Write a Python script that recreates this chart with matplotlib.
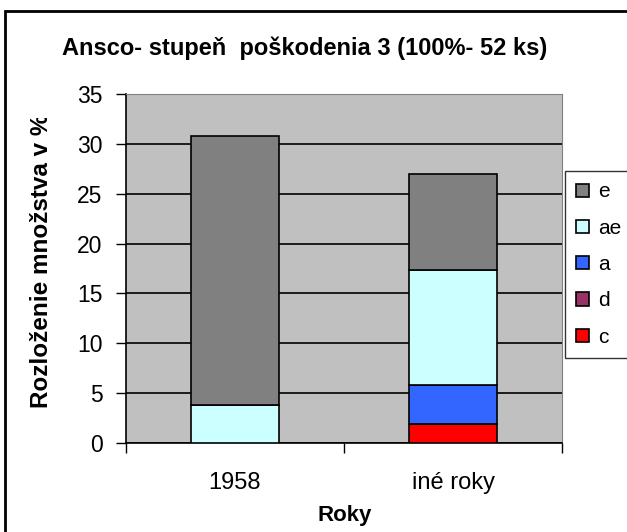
import matplotlib
matplotlib.use("Agg")
import matplotlib.pyplot as plt
from matplotlib.patches import Rectangle
from matplotlib.transforms import Bbox
import numpy as np

plt.rcParams["font.family"] = ["Liberation Sans", "DejaVu Sans"]

# data (percent of 52 pieces)
years = ["1958", "iné roky"]
series = ["c", "d", "a", "ae", "e"]
c_vals = [0.0, 1.92]
d_vals = [0.0, 0.0]
a_vals = [0.0, 3.85]
ae_vals = [3.85, 11.54]
e_vals = [26.92, 9.62]
colors = {"c": "#ff0000", "d": "#993366", "a": "#3366ff", "ae": "#ccffff", "e": "#808080"}

fig = plt.figure(figsize=(6.27, 5.32), dpi=100)
W, H = 627, 532
ax = fig.add_axes([126 / W, 1 - 443 / H, 436 / W, 349 / H])
ax.set_facecolor("#c0c0c0")

x = np.arange(len(years))
bottom = np.zeros(len(years))
vals = {"c": c_vals, "d": d_vals, "a": a_vals, "ae": ae_vals, "e": e_vals}
handles = {}
for s in series:
    v = np.array(vals[s])
    handles[s] = ax.bar(x, v, 0.405, bottom=bottom, color=colors[s],
                        edgecolor="black", linewidth=1.2, zorder=3, label=s)
    bottom += v

ax.set_xlim(-0.5, 1.5)
ax.set_ylim(0, 35)
ax.set_yticks(range(0, 36, 5))
ax.yaxis.grid(True, color="black", linewidth=1.2, zorder=1)
ax.set_axisbelow(True)
ax.set_xticks(x)
ax.set_xticklabels(years)
ax.tick_params(axis="x", length=0, labelsize=17, pad=21)
ax.tick_params(axis="y", length=7, width=1, labelsize=16.5, pad=10)
# category boundary ticks like excel
ax.set_xticks([-0.5, 0.5, 1.5], minor=True)
ax.tick_params(axis="x", which="minor", length=7, width=1)
for side in ["top", "right"]:
    ax.spines[side].set_color("#808080")
for side in ["left", "bottom"]:
    ax.spines[side].set_color("black")
    ax.spines[side].set_linewidth(1.2)

# y label, clipped at the top like in the original
yl = fig.text(42 / W, 1 - 408 / H, "Rozloženie množstva v %", rotation=90,
              ha="center", va="bottom", fontsize=17.5, fontweight="bold")
yl.set_clip_on(True)
yl.set_clip_box(Bbox.from_extents(0, 0, W, H - 118))

fig.text(345 / W, 1 - 515 / H, "Roky", ha="center", va="center",
         fontsize=16, fontweight="bold")

fig.text(305 / W, 1 - 48 / H, "Ansco- stupeň  poškodenia 3 (100%- 52 ks)",
         ha="center", va="center", fontsize=17, fontweight="bold")

order = ["e", "ae", "a", "d", "c"]
leg = fig.legend([handles[s] for s in order], order, loc="upper left",
                 bbox_to_anchor=(565 / W, 1 - 171 / H), fontsize=15,
                 frameon=True, fancybox=False, edgecolor="black",
                 handlelength=0.6, handleheight=0.6, handletextpad=0.45,
                 labelspacing=0.83, borderpad=0.55, borderaxespad=0)
leg.get_frame().set_linewidth(1)

fig.patches.append(Rectangle((5 / W, -10 / H), 640 / W, 531 / H, transform=fig.transFigure,
                             fill=False, edgecolor="black", linewidth=2))

fig.savefig("out.png", dpi=100)
